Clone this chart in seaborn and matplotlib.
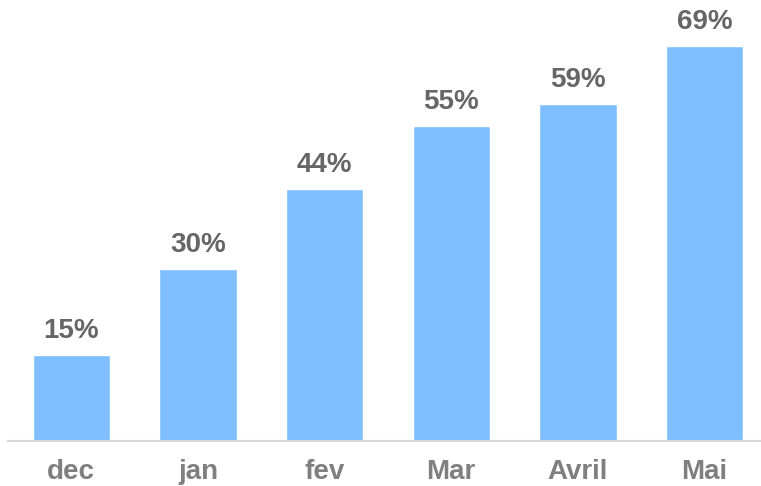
import matplotlib
matplotlib.use("Agg")
import matplotlib.pyplot as plt
import seaborn as sns
import pandas as pd

months = ["dec", "jan", "fev", "Mar", "Avril", "Mai"]
rates = [15, 30, 44, 55, 59, 69]

df = pd.DataFrame({"month": months, "rate": rates})

sns.set_theme(style="white")
plt.rcParams["font.family"] = ["Liberation Sans", "DejaVu Sans"]

fig = plt.figure(figsize=(7.61, 4.86), dpi=100)
ax = fig.add_axes([8 / 761, 45 / 486, 753 / 761, 441 / 486])

sns.barplot(data=df, x="month", y="rate", color="#7fbfff", saturation=1,
            width=0.61, ax=ax)

# value labels above bars
for i, v in enumerate(rates):
    ax.annotate(f"{v}%", (i, v), xytext=(0, 11), textcoords="offset pixels",
                ha="center", va="bottom", fontsize=20, fontweight="bold",
                color="#666666")

ax.set_xlim(-0.5, 5.446)
ax.set_ylim(0, 77.1)
ax.set_xlabel("")
ax.set_ylabel("")
ax.set_yticks([])
for s in ["top", "right", "left"]:
    ax.spines[s].set_visible(False)
ax.spines["bottom"].set_color("#d9d9d9")
ax.spines["bottom"].set_linewidth(1.5)
ax.tick_params(axis="x", length=0, pad=13, labelsize=20, labelcolor="#7f7f7f")
for lab in ax.get_xticklabels():
    lab.set_fontweight("bold")

fig.savefig("out.png", dpi=100)
